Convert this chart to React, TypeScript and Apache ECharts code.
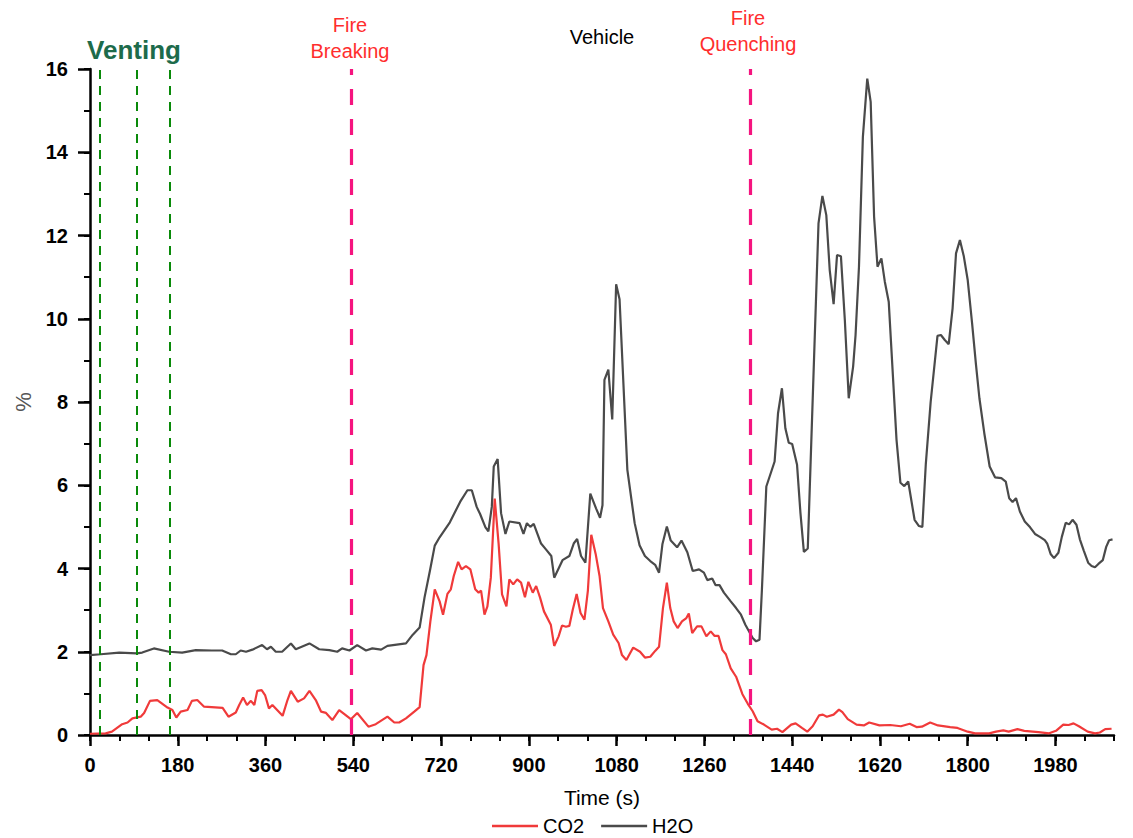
import React, { useEffect, useRef } from "react";
import * as echarts from "echarts";

const h2oTime = [0,22,60,96,107,131,162,189,217,250,271,289,299,309,320,333,353,363,371,381,394,412,422,450,470,491,507,517,532,548,566,579,597,610,648,662,676,686,697,707,717,738,759,774,783,793,800,811,817,824,828,836,843,852,860,881,889,896,903,910,925,935,946,952,969,983,992,999,1007,1016,1026,1038,1046,1051,1055,1063,1071,1079,1086,1102,1117,1127,1138,1149,1159,1167,1174,1183,1191,1204,1213,1225,1236,1249,1259,1266,1276,1283,1291,1300,1314,1325,1335,1344,1359,1366,1373,1378,1387,1404,1411,1419,1426,1433,1440,1450,1457,1464,1472,1494,1502,1510,1517,1525,1532,1540,1548,1556,1565,1570,1577,1585,1594,1601,1608,1615,1623,1630,1638,1654,1662,1670,1678,1691,1700,1707,1714,1724,1738,1745,1753,1761,1769,1776,1784,1792,1800,1809,1817,1824,1834,1845,1856,1869,1878,1885,1892,1899,1907,1917,1928,1938,1948,1958,1963,1970,1977,1986,1993,2001,2008,2015,2023,2030,2038,2047,2054,2061,2068,2077,2084,2090,2097];
const h2oValues = [1.92,1.94,1.98,1.96,1.98,2.08,2.0,1.98,2.04,2.03,2.03,1.94,1.94,2.03,2.0,2.05,2.16,2.06,2.12,2.0,2.0,2.2,2.06,2.2,2.06,2.04,2.0,2.08,2.03,2.16,2.03,2.08,2.05,2.14,2.2,2.41,2.58,3.3,3.94,4.55,4.75,5.11,5.6,5.88,5.88,5.48,5.31,4.99,4.89,5.48,6.45,6.63,5.33,4.83,5.13,5.09,4.83,5.09,5.0,5.07,4.6,4.46,4.3,3.78,4.2,4.3,4.6,4.71,4.3,4.14,5.8,5.44,5.22,5.52,8.53,8.78,7.58,10.83,10.47,6.37,5.09,4.56,4.3,4.18,4.09,3.9,4.59,5.01,4.67,4.51,4.67,4.39,3.94,3.98,3.9,3.72,3.76,3.6,3.6,3.42,3.21,3.05,2.89,2.65,2.33,2.25,2.29,3.5,5.97,6.57,7.73,8.33,7.37,7.02,6.99,6.49,5.33,4.4,4.48,12.29,12.95,12.49,11.17,10.35,11.53,11.5,9.97,8.09,8.85,9.61,11.25,14.37,15.77,15.21,12.45,11.25,11.45,10.89,10.41,7.09,6.06,5.98,6.09,5.17,5.02,5.0,6.5,8.0,9.59,9.61,9.49,9.39,10.25,11.57,11.89,11.5,10.93,9.89,8.89,8.09,7.25,6.45,6.19,6.17,6.09,5.69,5.6,5.69,5.37,5.13,4.99,4.83,4.76,4.68,4.6,4.35,4.25,4.38,4.76,5.1,5.06,5.17,5.05,4.7,4.43,4.14,4.06,4.03,4.11,4.2,4.52,4.68,4.7];

const co2Time = [0,32,45,66,77,87,104,111,123,138,145,159,169,177,186,200,209,220,234,272,284,299,306,314,322,330,337,343,352,359,367,374,395,405,412,426,439,450,463,474,484,497,511,535,548,571,586,610,624,634,648,665,676,684,690,698,707,717,724,733,740,746,755,762,771,780,790,797,802,809,815,822,830,838,845,854,860,868,876,884,892,899,908,915,923,931,945,952,961,968,976,983,990,998,1006,1014,1021,1028,1037,1045,1052,1063,1073,1084,1091,1100,1114,1128,1138,1149,1159,1167,1175,1183,1190,1197,1205,1214,1223,1228,1235,1245,1254,1264,1273,1281,1289,1297,1304,1314,1325,1338,1349,1359,1369,1382,1398,1409,1420,1438,1447,1460,1471,1482,1495,1503,1511,1525,1536,1543,1554,1572,1587,1598,1619,1641,1663,1681,1695,1706,1723,1739,1764,1779,1800,1815,1844,1858,1873,1884,1902,1916,1945,1967,1981,1996,2007,2017,2028,2046,2061,2071,2082,2095];
const co2Values = [0.03,0.04,0.08,0.26,0.3,0.4,0.44,0.53,0.82,0.84,0.78,0.66,0.6,0.42,0.56,0.6,0.82,0.84,0.68,0.65,0.44,0.54,0.72,0.9,0.72,0.82,0.72,1.06,1.08,0.96,0.64,0.72,0.46,0.84,1.06,0.8,0.88,1.06,0.84,0.56,0.53,0.36,0.6,0.38,0.53,0.2,0.26,0.44,0.3,0.3,0.4,0.56,0.67,1.68,1.92,2.73,3.5,3.21,2.89,3.39,3.5,3.82,4.16,3.98,4.06,3.98,3.5,3.42,3.47,2.89,3.09,3.78,5.68,4.59,3.38,3.09,3.74,3.62,3.74,3.66,3.31,3.68,3.42,3.58,3.3,2.97,2.65,2.14,2.37,2.63,2.6,2.62,3.01,3.39,2.93,2.77,3.46,4.81,4.35,3.82,3.05,2.73,2.41,2.21,1.92,1.8,2.1,2.0,1.86,1.88,2.02,2.12,3.05,3.66,3.05,2.73,2.57,2.73,2.81,2.92,2.45,2.61,2.61,2.37,2.49,2.38,2.38,2.04,1.94,1.6,1.4,0.98,0.75,0.57,0.33,0.25,0.13,0.15,0.07,0.25,0.28,0.17,0.08,0.21,0.47,0.49,0.44,0.49,0.61,0.55,0.38,0.25,0.23,0.3,0.23,0.24,0.21,0.27,0.19,0.2,0.3,0.23,0.19,0.17,0.08,0.04,0.04,0.08,0.11,0.08,0.14,0.1,0.07,0.04,0.1,0.25,0.24,0.28,0.21,0.08,0.04,0.06,0.14,0.15];

const xMajorTicks = [0,180,360,540,720,900,1080,1260,1440,1620,1800,1980];
const ventingTimes = [20, 96, 164];
const fireTimes = [535, 1355];

const FONT = '"Liberation Sans", Arial, sans-serif';

export default function App() {
  const ref = useRef<HTMLDivElement>(null);
  useEffect(() => {
    if (!ref.current) return;
    const chart = echarts.init(ref.current, undefined, { renderer: "svg" });
    const green = { color: "#0a8a0a", type: [9, 7] as any, width: 2 };
    const pink = { color: "#f5147f", type: [16, 14] as any, width: 3.2 };
    const option: any = {
      animation: false,
      textStyle: { fontFamily: FONT },
      grid: { left: 90, right: 19, top: 69, bottom: 103, containLabel: false },
      legend: {
        data: [
          { name: "CO2", icon: "rect" },
          { name: "H2O", icon: "rect" },
        ],
        top: 816,
        left: 492,
        itemWidth: 46,
        itemHeight: 2.5,
        itemGap: 17,
        padding: 0,
        textStyle: { fontSize: 20, color: "#000", fontFamily: FONT },
      },
      xAxis: [
        {
          type: "value",
          min: 0,
          max: 2100,
          interval: 180,
          name: "Time (s)",
          nameLocation: "middle",
          nameGap: 52,
          nameTextStyle: { fontSize: 21, color: "#000", fontFamily: FONT },
          axisLine: { show: true, lineStyle: { color: "#000", width: 2.5 } },
          axisTick: { show: true, inside: false, length: 11, lineStyle: { width: 2.5, color: "#000" }, customValues: xMajorTicks },
          axisLabel: {
            fontSize: 20,
            fontWeight: "bold",
            color: "#000",
            margin: 20,
            fontFamily: FONT,
            customValues: xMajorTicks,
            formatter: (v: number) => (v > 2000 ? "" : String(v)),
          },
          splitLine: { show: false },
        },
        {
          type: "value",
          min: 0,
          max: 2100,
          interval: 60,
          position: "bottom",
          axisLine: { show: false },
          axisTick: { show: true, inside: false, length: 6, lineStyle: { width: 2, color: "#000" } },
          axisLabel: { show: false },
          splitLine: { show: false },
        },
      ],
      yAxis: [
        {
          type: "value",
          min: 0,
          max: 16,
          interval: 2,
          name: "%",
          nameLocation: "middle",
          nameGap: 48,
          nameTextStyle: { fontSize: 22, color: "#555", fontFamily: FONT },
          axisLine: { show: true, lineStyle: { color: "#000", width: 2.5 } },
          axisTick: { show: true, inside: false, length: 12, lineStyle: { width: 2.5, color: "#000" } },
          axisLabel: { fontSize: 20, fontWeight: "bold", color: "#000", margin: 22, fontFamily: FONT, formatter: (v: number) => String(v) },
          splitLine: { show: false },
        },
        {
          type: "value",
          min: 0,
          max: 16,
          interval: 1,
          position: "left",
          axisLine: { show: false },
          axisTick: { show: true, inside: false, length: 6, lineStyle: { width: 2, color: "#000" } },
          axisLabel: { show: false },
          splitLine: { show: false },
        },
      ],
      series: [
        {
          name: "CO2",
          type: "line",
          xAxisIndex: 0,
          yAxisIndex: 0,
          symbol: "none",
          data: co2Time.map((t, i) => [t, co2Values[i]]),
          lineStyle: { color: "#f03a3a", width: 2.2 },
          itemStyle: { color: "#f03a3a" },
          markLine: {
            silent: true,
            symbol: "none",
            label: { show: false },
            data: [
              ...ventingTimes.map((t) => ({ xAxis: t, lineStyle: green })),
              ...fireTimes.map((t) => ({ xAxis: t, lineStyle: pink })),
            ],
          },
          z: 3,
        },
        {
          name: "H2O",
          type: "line",
          xAxisIndex: 0,
          yAxisIndex: 0,
          symbol: "none",
          data: h2oTime.map((t, i) => [t, h2oValues[i]]),
          lineStyle: { color: "#4a4a4a", width: 2.2 },
          itemStyle: { color: "#4a4a4a" },
          z: 2,
        },
      ],
      graphic: [
        { type: "text", x: 134, y: 50, style: { text: "Venting", fill: "#1d6b4b", font: `bold 26px ${FONT}`, textAlign: "center", textVerticalAlign: "middle" } },
        { type: "text", x: 350, y: 25, style: { text: "Fire", fill: "#ff2d2d", font: `20px ${FONT}`, textAlign: "center", textVerticalAlign: "middle" } },
        { type: "text", x: 350, y: 51, style: { text: "Breaking", fill: "#ff2d2d", font: `20px ${FONT}`, textAlign: "center", textVerticalAlign: "middle" } },
        { type: "text", x: 602, y: 37, style: { text: "Vehicle", fill: "#000", font: `20px ${FONT}`, textAlign: "center", textVerticalAlign: "middle" } },
        { type: "text", x: 748, y: 18, style: { text: "Fire", fill: "#ff2d2d", font: `20px ${FONT}`, textAlign: "center", textVerticalAlign: "middle" } },
        { type: "text", x: 748, y: 44, style: { text: "Quenching", fill: "#ff2d2d", font: `20px ${FONT}`, textAlign: "center", textVerticalAlign: "middle" } },
      ],
    };
    chart.setOption(option);
    return () => chart.dispose();
  }, []);
  return (
    <div
      ref={ref}
      style={{ position: "fixed", left: 0, top: 0, width: 1133, height: 838, background: "#fff" }}
    />
  );
}
